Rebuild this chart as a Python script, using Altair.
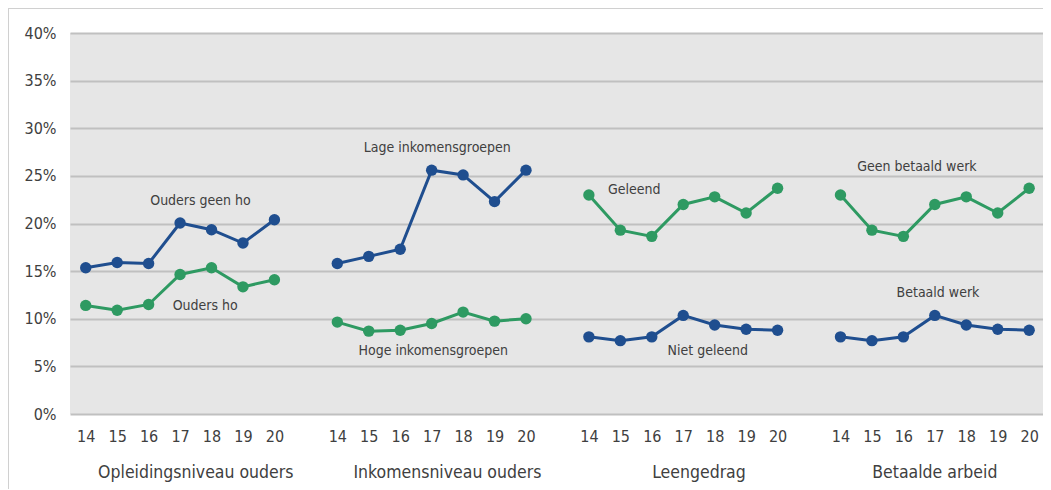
import altair as alt
import pandas as pd

years = [14, 15, 16, 17, 18, 19, 20]
groups = ["Opleidingsniveau ouders", "Inkomensniveau ouders", "Leengedrag", "Betaalde arbeid"]

ouders_geen_ho = [15.35, 15.9, 15.8, 20.05, 19.35, 17.95, 20.4]
ouders_ho = [11.4, 10.9, 11.5, 14.65, 15.35, 13.35, 14.1]
lage_inkomens = [15.8, 16.55, 17.3, 25.6, 25.1, 22.3, 25.6]
hoge_inkomens = [9.65, 8.7, 8.8, 9.5, 10.7, 9.75, 10.0]
geleend = [23.0, 19.3, 18.65, 22.0, 22.8, 21.1, 23.7]
niet_geleend = [8.1, 7.7, 8.1, 10.35, 9.35, 8.9, 8.8]
geen_betaald_werk = [23.0, 19.3, 18.65, 22.0, 22.8, 21.1, 23.7]
betaald_werk = [8.1, 7.7, 8.1, 10.35, 9.35, 8.9, 8.8]

series = [
    ("Ouders geen ho", 0, "blauw", ouders_geen_ho),
    ("Ouders ho", 0, "groen", ouders_ho),
    ("Lage inkomensgroepen", 1, "blauw", lage_inkomens),
    ("Hoge inkomensgroepen", 1, "groen", hoge_inkomens),
    ("Geleend", 2, "groen", geleend),
    ("Niet geleend", 2, "blauw", niet_geleend),
    ("Geen betaald werk", 3, "groen", geen_betaald_werk),
    ("Betaald werk", 3, "blauw", betaald_werk),
]

# series label positions (slot, value)
label_names = ["Ouders geen ho", "Ouders ho", "Lage inkomensgroepen", "Hoge inkomensgroepen",
               "Geleend", "Niet geleend", "Geen betaald werk", "Betaald werk"]
label_slot = [3.65, 3.8, 11.18, 11.05, 17.44, 19.78, 26.43, 27.1]
label_value = [22.4, 11.3, 27.9, 6.6, 23.5, 6.6, 25.9, 12.7]

# group label centre slots
group_centre = [3.5, 11.5, 19.5, 27.0]

rows = []
for name, g, kleur, vals in series:
    for i, (yr, v) in enumerate(zip(years, vals)):
        rows.append({"serie": name, "kleur": kleur, "slot": g * 8 + i, "jaar": yr, "waarde": v})
df = pd.DataFrame(rows)

labels_df = pd.DataFrame({"tekst": label_names, "slot": label_slot, "waarde": label_value})
groups_df = pd.DataFrame({"groep": groups, "slot": group_centre})

tick_values = [g * 8 + i for g in range(4) for i in range(7)]

FONT = "DejaVu Sans Condensed, DejaVu Sans"
TXT = "#404040"

xscale = alt.Scale(domain=[-0.5, 30.44], nice=False, zero=False)
yscale = alt.Scale(domain=[0, 40], nice=False)
color = alt.Color("kleur:N", scale=alt.Scale(domain=["blauw", "groen"], range=["#1f4e8f", "#2e9a62"]), legend=None)

x_axis = alt.Axis(values=tick_values, labelExpr="'' + (14 + datum.value % 8)",
                  grid=False, domain=False, ticks=False, labelPadding=14,
                  labelOverlap=False, labelFlush=False, labelBound=False,
                  labelFontSize=16, labelColor=TXT, labelFont=FONT)
y_axis = alt.Axis(values=[0, 5, 10, 15, 20, 25, 30, 35, 40], labelExpr="datum.value + '%'",
                  grid=True, gridColor="#c0c0c0", gridWidth=2, domain=False, ticks=False,
                  labelPadding=14, labelFontSize=16, labelColor=TXT, labelFont=FONT)

X = alt.X("slot:Q", scale=xscale, title=None, axis=x_axis)
Y = alt.Y("waarde:Q", scale=yscale, title=None, axis=y_axis)

base = alt.Chart(df)

lines = base.mark_line(strokeWidth=3).encode(x=X, y=Y, color=color, detail="serie:N")

points = base.mark_circle(size=130, opacity=1).encode(x=X, y=Y, color=color)

texts = alt.Chart(labels_df).mark_text(font=FONT, fontSize=14, color=TXT, align="center", baseline="middle").encode(
    x=X, y=Y, text="tekst:N",
)

group_texts = alt.Chart(groups_df).mark_text(font=FONT, fontSize=17.5, color=TXT, align="center", baseline="middle").encode(
    x=X, y=alt.value(440), text="groep:N",
)

frame_left = alt.Chart(groups_df).mark_rule(color="#d0d0d0", strokeWidth=1).encode(
    x=alt.value(-61.5), y=alt.value(-24.5), y2=alt.value(470)
)
frame_top = alt.Chart(groups_df).mark_rule(color="#d0d0d0", strokeWidth=1).encode(
    y=alt.value(-24.5), x=alt.value(-61.5), x2=alt.value(980)
)

chart = alt.layer(lines, points, texts, group_texts, frame_left, frame_top).properties(
    width=973, height=381,
    autosize=alt.AutoSizeParams(type="none"),
    padding={"left": 62, "top": 25, "right": 0, "bottom": 75},
    background="white",
).configure_view(fill="#e6e6e6", strokeWidth=0).configure_axisX(labelOverlap=False)

chart.save("out.html", embed_options={"renderer": "svg", "actions": False})
